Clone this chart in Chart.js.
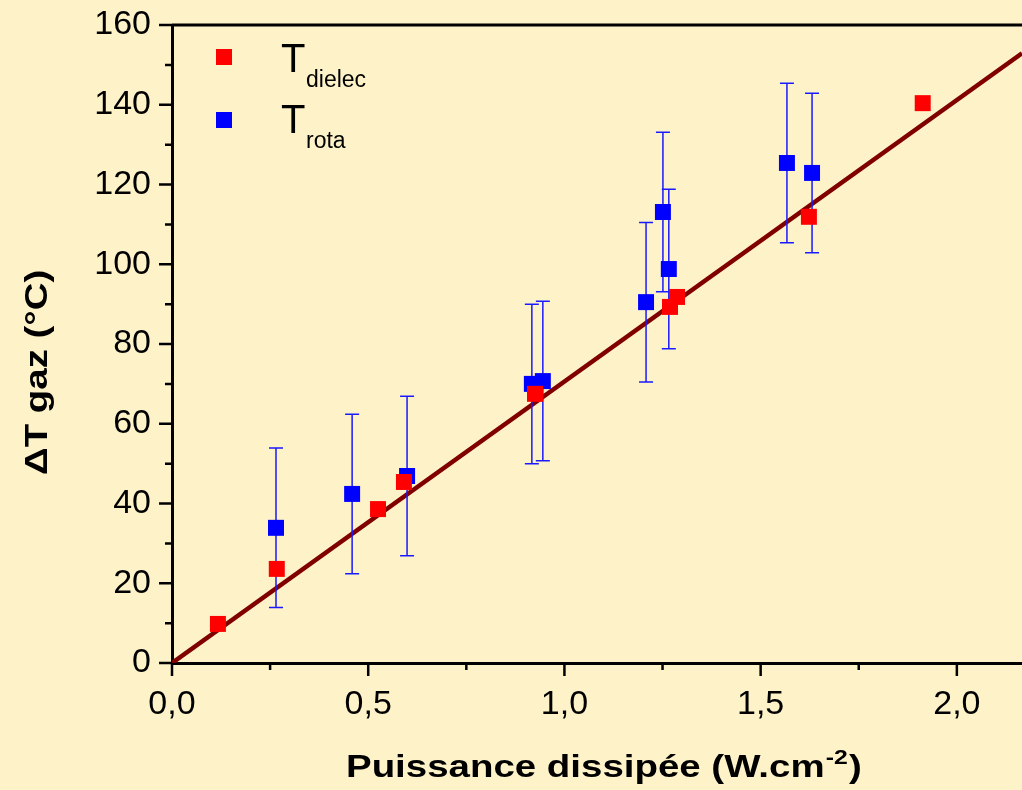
<!DOCTYPE html>
<html>
<head>
<meta charset="utf-8">
<script src="https://cdn.jsdelivr.net/npm/chart.js@4.4.1/dist/chart.umd.min.js"></script>
<style>
html,body{margin:0;padding:0;background:#fef3c8;}
canvas{display:block;}
</style>
</head>
<body>
<canvas id="c" width="1022" height="790"></canvas>
<script>
// ---- data ----
const dielecX = [0.117, 0.267, 0.525, 0.591, 0.925, 1.269, 1.287, 1.623, 1.913];
const dielecY = [9.8, 23.6, 38.6, 45.4, 67.5, 89.3, 91.8, 111.9, 140.4];
const rotaX = [0.265, 0.459, 0.599, 0.917, 0.945, 1.208, 1.251, 1.266, 1.567, 1.631];
const rotaY = [33.9, 42.4, 46.9, 70.0, 70.7, 90.5, 113.1, 98.8, 125.4, 122.9];
const rotaErr = [20, 20, 20, 20, 20, 20, 20, 20, 20, 20];
const fitX = [0, 2.166];
const fitY = [0, 152.9];
const xTicks = [0, 0.5, 1.0, 1.5, 2.0];
const xMinorTicks = [0.25, 0.75, 1.25, 1.75];
const yTicks = [0, 20, 40, 60, 80, 100, 120, 140, 160];
const yMinorTicks = [10, 30, 50, 70, 90, 110, 130, 150];
const xTitle = 'Puissance dissipée (W.cm';
const xTitleSup = '-2';
const yTitle = '\u0394T gaz (°C)';
const legendMain = ['T', 'T'];
const legendSub = ['dielec', 'rota'];

const FONT = '"Liberation Sans", Arial, sans-serif';
const BG = '#fef3c8';
const STRETCH = 1.24;

const toPts = (xs, ys) => xs.map((x, i) => ({x: x, y: ys[i]}));

const bgPlugin = {
  id: 'bg',
  beforeDraw(chart) {
    const ctx = chart.ctx;
    ctx.save();
    ctx.fillStyle = BG;
    ctx.fillRect(0, 0, chart.width, chart.height);
    ctx.restore();
  }
};

const errPlugin = {
  id: 'errbars',
  afterDatasetDraw(chart, args) {
    if (args.index !== 0) return;
    const ctx = chart.ctx, xs = chart.scales.x, ys = chart.scales.y;
    ctx.save();
    ctx.strokeStyle = '#1a1aff';
    ctx.lineWidth = 1.5;
    rotaX.forEach((x, i) => {
      const px = xs.getPixelForValue(x);
      const top = ys.getPixelForValue(rotaY[i] + rotaErr[i]);
      const bot = ys.getPixelForValue(rotaY[i] - rotaErr[i]);
      ctx.beginPath();
      ctx.moveTo(px, top); ctx.lineTo(px, bot);
      ctx.moveTo(px - 7, top); ctx.lineTo(px + 7, top);
      ctx.moveTo(px - 7, bot); ctx.lineTo(px + 7, bot);
      ctx.stroke();
    });
    ctx.restore();
  }
};

const decoPlugin = {
  id: 'deco',
  afterDraw(chart) {
    const ctx = chart.ctx, xs = chart.scales.x, ys = chart.scales.y;
    const a = chart.chartArea;
    ctx.save();
    ctx.strokeStyle = '#000';
    ctx.lineWidth = 3;
    // top frame line
    ctx.beginPath();
    ctx.moveTo(a.left, a.top); ctx.lineTo(a.right, a.top);
    ctx.stroke();
    // ticks
    ctx.lineWidth = 2.5;
    ctx.beginPath();
    xTicks.forEach(v => { const p = xs.getPixelForValue(v); ctx.moveTo(p, a.bottom); ctx.lineTo(p, a.bottom + 13); });
    xMinorTicks.forEach(v => { const p = xs.getPixelForValue(v); ctx.moveTo(p, a.bottom); ctx.lineTo(p, a.bottom + 7); });
    yTicks.forEach(v => { const p = ys.getPixelForValue(v); ctx.moveTo(a.left, p); ctx.lineTo(a.left - 13, p); });
    yMinorTicks.forEach(v => { const p = ys.getPixelForValue(v); ctx.moveTo(a.left, p); ctx.lineTo(a.left - 7, p); });
    ctx.stroke();

    // axis titles (horizontally stretched as in the reference)
    ctx.fillStyle = '#000';
    ctx.textBaseline = 'alphabetic';
    ctx.textAlign = 'left';
    ctx.save();
    ctx.translate(346, 777);
    ctx.scale(STRETCH, 1);
    ctx.font = 'bold 31px ' + FONT;
    ctx.fillText(xTitle, 0, 0);
    let w = ctx.measureText(xTitle).width;
    ctx.font = 'bold 20px ' + FONT;
    ctx.fillText(xTitleSup, w + 1, -13);
    let w2 = ctx.measureText(xTitleSup).width;
    ctx.font = 'bold 31px ' + FONT;
    ctx.fillText(')', w + w2 + 2, 0);
    ctx.restore();

    ctx.save();
    ctx.translate(47, 475);
    ctx.rotate(-Math.PI / 2);
    ctx.scale(STRETCH, 1);
    ctx.font = 'bold 31px ' + FONT;
    ctx.fillText(yTitle, 0, 0);
    ctx.restore();

    // legend
    const colors = ['#ff0000', '#0000ff'];
    const markY = [57, 120];
    const mainBase = [72, 133];
    for (let i = 0; i < 2; i++) {
      ctx.fillStyle = colors[i];
      ctx.fillRect(216, markY[i] - 8, 16, 16);
      ctx.fillStyle = '#000';
      ctx.font = '40px ' + FONT;
      ctx.fillText(legendMain[i], 281, mainBase[i]);
      ctx.font = '23px ' + FONT;
      ctx.fillText(legendSub[i], 306, mainBase[i] + 15);
    }
    ctx.restore();
  }
};

const fmtX = v => v.toFixed(1).replace('.', ',');

new Chart(document.getElementById('c'), {
  type: 'scatter',
  data: {
    datasets: [
      {
        label: 'fit',
        type: 'line',
        data: toPts(fitX, fitY),
        borderColor: '#800000',
        borderWidth: 4.5,
        pointRadius: 0,
        fill: false,
        order: 2
      },
      {
        label: 'Trota',
        data: toPts(rotaX, rotaY),
        pointStyle: 'rect',
        pointRadius: 11.3,
        pointHoverRadius: 11.3,
        backgroundColor: '#0000ff',
        borderColor: '#0000ff',
        pointBorderWidth: 0,
        order: 1
      },
      {
        label: 'Tdielec',
        data: toPts(dielecX, dielecY),
        pointStyle: 'rect',
        pointRadius: 11.3,
        pointHoverRadius: 11.3,
        backgroundColor: '#ff0000',
        borderColor: '#ff0000',
        pointBorderWidth: 0,
        order: 0
      }
    ]
  },
  options: {
    responsive: false,
    animation: false,
    layout: {autoPadding: false, padding: {top: 25, right: 0, left: 0, bottom: 0}},
    plugins: {legend: {display: false}, tooltip: {enabled: false}},
    scales: {
      x: {
        type: 'linear',
        min: 0,
        max: 2.166,
        afterBuildTicks: s => { s.ticks = xTicks.map(v => ({value: v})); },
        afterFit: s => { s.height = 127; s.paddingLeft = 0; s.paddingRight = 0; s.paddingTop = 0; s.paddingBottom = 0; },
        ticks: {
          callback: v => fmtX(v),
          font: {family: FONT, size: 34},
          color: '#000',
          padding: 21,
          maxRotation: 0,
          autoSkip: false
        },
        grid: {display: false, drawTicks: false},
        border: {display: true, color: '#000', width: 3}
      },
      y: {
        type: 'linear',
        min: 0,
        max: 160,
        afterBuildTicks: s => { s.ticks = yTicks.map(v => ({value: v})); },
        afterFit: s => { s.width = 172; s.paddingLeft = 0; s.paddingRight = 0; s.paddingTop = 0; s.paddingBottom = 0; },
        ticks: {
          font: {family: FONT, size: 34},
          color: '#000',
          padding: 21,
          autoSkip: false
        },
        grid: {display: false, drawTicks: false},
        border: {display: true, color: '#000', width: 3}
      }
    }
  },
  plugins: [bgPlugin, errPlugin, decoPlugin]
});
</script>
</body>
</html>
